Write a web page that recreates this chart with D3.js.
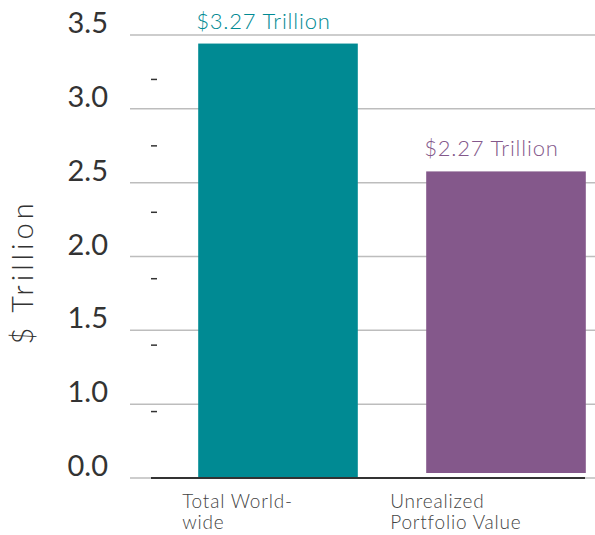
<!DOCTYPE html>
<html lang="en">
  <head>
    <meta charset="UTF-8" />
    <title>Total World-wide vs Unrealized Portfolio Value</title>
    <script src="https://cdn.jsdelivr.net/npm/d3@7/dist/d3.min.js"></script>
    <style>
      body { margin: 0; background: #fff; }
      text { font-family: Lato, 'Open Sans', sans-serif; }
    </style>
  </head>
  <body>
    <svg width="595" height="535"></svg>

    <script>
      // data
      const categories = ['Total World-wide', 'Unrealized Portfolio Value']
      const catLines = [['Total World-', 'wide'], ['Unrealized', 'Portfolio Value']]
      const values = [3.27, 2.27]
      const valueLabels = ['$3.27 Trillion', '$2.27 Trillion']
      const colors = ['#008a93', '#84588b']
      // labelled gridlines as printed on the chart
      const gridLabels = ['3.5', '3.0', '2.5', '2.0', '1.5', '1.0', '0.0']
      // minor dash ticks
      const minorTicks = [0.5, 1.0, 1.5, 2.0, 2.5, 3.0]

      const svg = d3.select('svg')
      const width = +svg.attr('width')

      // value scale
      const y = d3.scaleLinear().domain([0, 3.5]).range([478, 13])
      // x band scale
      const x = d3.scaleBand().domain(categories).range([164, 620])
        .paddingInner(0.3).paddingOuter(0.15)
      // labelled gridline positions
      const g = d3.scalePoint().domain(gridLabels).range([35, 478])

      // gridlines
      svg.append('g').selectAll('line').data(gridLabels).enter().append('line')
        .attr('x1', 130).attr('x2', width)
        .attr('y1', d => g(d)).attr('y2', d => g(d))
        .attr('stroke', '#bdbdbd').attr('stroke-width', 1.5)

      svg.append('g').selectAll('text').data(gridLabels).enter().append('text')
        .attr('x', 108).attr('y', d => g(d) - 2)
        .attr('text-anchor', 'end')
        .attr('fill', '#333')
        .style('font-size', '29px')
        .style('font-weight', 400)
        .text(d => d)

      // minor dashes
      svg.append('g').selectAll('line').data(minorTicks).enter().append('line')
        .attr('x1', 151).attr('x2', 157)
        .attr('y1', d => y(d)).attr('y2', d => y(d))
        .attr('stroke', '#333').attr('stroke-width', 1.5)

      // bars
      svg.append('g').selectAll('rect').data(values).enter().append('rect')
        .attr('x', (d, i) => x(categories[i]))
        .attr('width', x.bandwidth())
        .attr('y', (d, i) => y(d) - (i ? 5 : 0))
        .attr('height', d => y(0) - y(d))
        .attr('fill', (d, i) => colors[i])

      // baseline
      svg.append('line')
        .attr('x1', 151).attr('x2', 585)
        .attr('y1', y(0)).attr('y2', y(0))
        .attr('stroke', '#333').attr('stroke-width', 2)

      // value labels
      svg.append('g').selectAll('text').data(values).enter().append('text')
        .attr('x', (d, i) => x(categories[i]) - 2)
        .attr('y', (d, i) => y(d) - (i ? 5 : 0) - 15)
        .attr('fill', (d, i) => colors[i])
        .style('font-size', '22px')
        .style('font-weight', 300)
        .style('letter-spacing', '0.8px')
        .text((d, i) => valueLabels[i])

      // category labels
      const cat = svg.append('g').selectAll('text').data(categories).enter().append('text')
        .attr('fill', '#444')
        .style('font-size', '19px')
        .style('font-weight', 300)
        .style('letter-spacing', '0.8px')
      cat.each(function (d, i) {
        const t = d3.select(this)
        catLines[i].forEach((s, j) => {
          t.append('tspan')
            .attr('x', x(d) + (i ? -36 : -16))
            .attr('y', 508 + j * 21)
            .text(s)
        })
      })

      // y title
      svg.append('text')
        .attr('transform', 'translate(33,272) rotate(-90)')
        .attr('text-anchor', 'middle')
        .attr('fill', '#333')
        .style('font-size', '29px')
        .style('font-weight', 300)
        .style('letter-spacing', '4px')
        .text('$ Trillion')
    </script>
  </body>
</html>
